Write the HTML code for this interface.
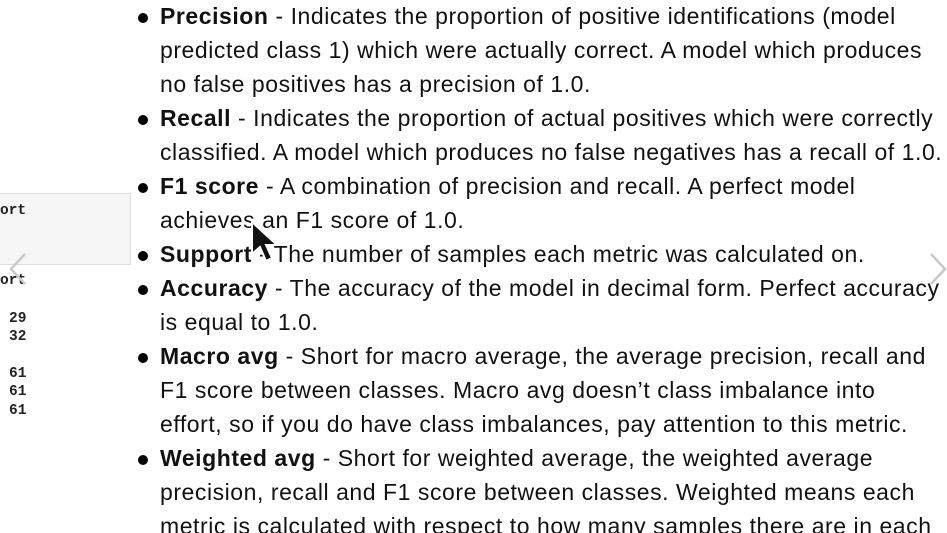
<!DOCTYPE html>
<html><head><meta charset="utf-8">
<style>
html,body{margin:0;padding:0;width:947px;height:533px;overflow:hidden;background:#fff;}
body{position:relative;font-family:"Liberation Sans",Arial,sans-serif;color:#111;}
.l{position:absolute;left:160px;font-size:23px;letter-spacing:0.55px;line-height:34px;white-space:nowrap;margin-top:-1px;}
.b{position:absolute;left:138px;width:10px;height:10px;border-radius:50%;background:#000;}
.code{position:absolute;font-family:"Liberation Mono",monospace;font-size:14.5px;font-weight:bold;color:#222;}
</style></head><body>
<div style="position:absolute;left:-2px;top:193px;width:131px;height:70px;background:#f5f5f5;border:1px solid #ddd;"></div>
<div class="code" style="left:0;top:203px;">ort</div>
<div class="code" style="left:0;top:273px;">ort</div>
<div class="code" style="left:9px;top:311px;">29</div>
<div class="code" style="left:9px;top:329px;">32</div>
<div class="code" style="left:9px;top:366px;">61</div>
<div class="code" style="left:9px;top:384px;">61</div>
<div class="code" style="left:9px;top:403px;">61</div>

<div class="b" style="top:13px"></div>
<div class="b" style="top:115px"></div>
<div class="b" style="top:183px"></div>
<div class="b" style="top:251px"></div>
<div class="b" style="top:285px"></div>
<div class="b" style="top:353px"></div>
<div class="b" style="top:455px"></div>

<div class="l" style="top:0px"><b>Precision</b> - Indicates the proportion of positive identifications (model</div>
<div class="l" style="top:34px">predicted class 1) which were actually correct. A model which produces</div>
<div class="l" style="top:68px">no false positives has a precision of 1.0.</div>
<div class="l" style="top:102px"><b>Recall</b> - Indicates the proportion of actual positives which were correctly</div>
<div class="l" style="top:136px">classified. A model which produces no false negatives has a recall of 1.0.</div>
<div class="l" style="top:170px"><b>F1 score</b> - A combination of precision and recall. A perfect model</div>
<div class="l" style="top:204px">achieves an F1 score of 1.0.</div>
<div class="l" style="top:238px"><b>Support</b> - The number of samples each metric was calculated on.</div>
<div class="l" style="top:272px"><b>Accuracy</b> - The accuracy of the model in decimal form. Perfect accuracy</div>
<div class="l" style="top:306px">is equal to 1.0.</div>
<div class="l" style="top:340px"><b>Macro avg</b> - Short for macro average, the average precision, recall and</div>
<div class="l" style="top:374px">F1 score between classes. Macro avg doesn’t class imbalance into</div>
<div class="l" style="top:408px">effort, so if you do have class imbalances, pay attention to this metric.</div>
<div class="l" style="top:442px"><b>Weighted avg</b> - Short for weighted average, the weighted average</div>
<div class="l" style="top:476px">precision, recall and F1 score between classes. Weighted means each</div>
<div class="l" style="top:510px">metric is calculated with respect to how many samples there are in each</div>

<svg style="position:absolute;left:8px;top:252px" width="20" height="34"><polyline points="17,2 3,17 17,32" fill="none" stroke="#c8c8c8" stroke-width="2.5"/></svg>
<svg style="position:absolute;left:928px;top:252px" width="20" height="34"><polyline points="3,2 17,17 3,32" fill="none" stroke="#c8c8c8" stroke-width="2.5"/></svg>
<svg style="position:absolute;left:248px;top:218px" width="34" height="48"><polygon points="4,4 4,36 12,29 18,43 24,40 18,27 29,27" fill="#111" stroke="#fff" stroke-width="2"/></svg>
</body></html>
